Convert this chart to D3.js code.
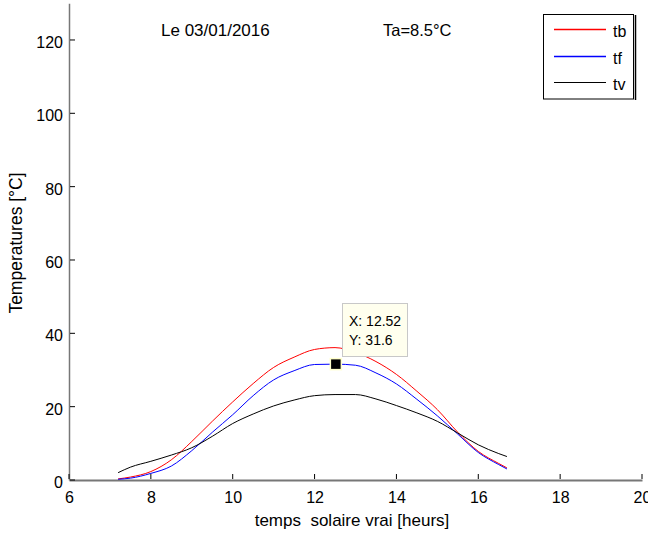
<!DOCTYPE html>
<html>
<head>
<meta charset="utf-8">
<script src="https://cdn.jsdelivr.net/npm/d3@7"></script>
<style>
  body { margin: 0; background: #fff; }
  svg { font-family: "Liberation Sans", Arial, sans-serif; }
</style>
</head>
<body>
<script>
// data
var heures = [7.2, 7.5, 8, 8.5, 9, 9.5, 10, 10.5, 11, 11.5, 12, 12.5, 13, 13.5, 14, 14.5, 15, 15.5, 16, 16.5, 16.7];
var tb = [0.3, 0.8, 2.3, 5.5, 10.5, 16, 21.3, 26.3, 30.7, 33.5, 35.6, 36.1, 34.8, 32.3, 28.8, 24.2, 19.2, 13, 7.8, 4.5, 3.3];
var tf = [0.2, 0.5, 1.8, 3.8, 8, 13, 17.8, 23, 27.3, 29.8, 31.5, 31.6, 31.3, 29.2, 26.2, 22, 17.5, 12.5, 7.5, 4.2, 3.0];
var tv = [2.0, 3.5, 5.1, 6.8, 8.8, 11.9, 15.4, 18, 20.2, 21.8, 23, 23.3, 23.3, 22.1, 20.3, 18.3, 16, 12.8, 9.6, 7.2, 6.4];
var xTicks = [6, 8, 10, 12, 14, 16, 18, 20];
var yTicks = [0, 20, 40, 60, 80, 100, 120];
var seriesNames = ["tb", "tf", "tv"];
var seriesColors = ["#ff0000", "#0000ff", "#000000"];
var datatip = {x: 12.52, y: 31.6};

var width = 648, height = 534;

var svg = d3.select("body").append("svg")
  .attr("width", width)
  .attr("height", height);

var x = d3.scaleLinear().domain([6, 20]).range([69, 642]);
var y = d3.scaleLinear().domain([0, 130]).range([480, 3.3]);

// axes
var xAxis = svg.append("g")
  .attr("transform", "translate(0,480)")
  .call(d3.axisBottom(x).tickValues(xTicks).tickSize(0).tickPadding(14));
xAxis.select(".domain").attr("stroke", "#777").attr("stroke-width", 2);
xAxis.selectAll("text").attr("font-size", 16).attr("fill", "#000")
  .attr("y", 23).attr("dy", 0);

var yAxis = svg.append("g")
  .attr("transform", "translate(69,0)")
  .call(d3.axisLeft(y).tickValues(yTicks).tickSize(0).tickPadding(6));
yAxis.select(".domain").attr("stroke", "#777").attr("stroke-width", 1.5);
yAxis.selectAll("text").attr("font-size", 16).attr("fill", "#000")
  .attr("dy", "0.47em");

// inward ticks
svg.append("g").selectAll("line")
  .data(xTicks)
  .enter().append("line")
  .attr("x1", function(d) { return x(d); })
  .attr("x2", function(d) { return x(d); })
  .attr("y1", 479)
  .attr("y2", 474)
  .attr("stroke", "#000");

svg.append("g").selectAll("line")
  .data(yTicks)
  .enter().append("line")
  .attr("x1", 70)
  .attr("x2", 75)
  .attr("y1", function(d) { return y(d); })
  .attr("y2", function(d) { return y(d); })
  .attr("stroke", "#000");

// curves
var series = [tb, tf, tv];
var line = d3.line()
  .x(function(d, i) { return x(heures[i]); })
  .y(function(d) { return y(d); })
  .curve(d3.curveMonotoneX);

svg.append("g").selectAll("path")
  .data(series)
  .enter().append("path")
  .attr("d", line)
  .attr("fill", "none")
  .attr("stroke", function(d, i) { return seriesColors[i]; })
  .attr("stroke-width", 1);

// labels
svg.append("text")
  .attr("x", 161).attr("y", 36)
  .attr("font-size", 17)
  .text("Le 03/01/2016");
svg.append("text")
  .attr("x", 383).attr("y", 36)
  .attr("font-size", 16.5)
  .text("Ta=8.5°C");

svg.append("text")
  .attr("transform", "translate(22,243) rotate(-90)")
  .attr("text-anchor", "middle")
  .attr("font-size", 17.5)
  .text("Temperatures [°C]");

svg.append("text")
  .attr("x", 352).attr("y", 526)
  .attr("text-anchor", "middle")
  .attr("font-size", 17)
  .style("white-space", "pre")
  .text("temps  solaire vrai [heurs]");

// legend
var legend = svg.append("g");
legend.append("line")
  .attr("x1", 635.5).attr("x2", 635.5)
  .attr("y1", 15).attr("y2", 100)
  .attr("stroke", "#000").attr("stroke-width", 1.5);
legend.append("rect")
  .attr("x", 543.5).attr("y", 14.5)
  .attr("width", 90).attr("height", 84.5)
  .attr("fill", "#fff")
  .attr("stroke", "#000");

var rowsY = [29, 56, 82];
seriesNames.forEach(function(name, i) {
  legend.append("line")
    .attr("x1", 554).attr("x2", 606)
    .attr("y1", rowsY[i] + 0.5).attr("y2", rowsY[i] + 0.5)
    .attr("stroke", seriesColors[i])
    .attr("stroke-width", i == 2 ? 1 : 1.6);
  legend.append("text")
    .attr("x", 613).attr("y", rowsY[i] + 8)
    .attr("font-size", 16)
    .text(name);
});

// datatip
var tip = svg.append("g");
tip.append("rect")
  .attr("x", 342.5).attr("y", 303.5)
  .attr("width", 65).attr("height", 53)
  .attr("fill", "#ffffee")
  .attr("stroke", "#c8c8c8");
tip.append("text")
  .attr("x", 349).attr("y", 326)
  .attr("font-size", 14)
  .text("X: " + datatip.x);
tip.append("text")
  .attr("x", 349).attr("y", 345)
  .attr("font-size", 14)
  .text("Y: " + datatip.y);
tip.append("rect")
  .attr("x", x(datatip.x) - 5.5)
  .attr("y", y(datatip.y) - 5.5)
  .attr("width", 11).attr("height", 11)
  .attr("fill", "#000")
  .attr("stroke", "#ffffcc")
  .attr("stroke-width", 1.5);
</script>
</body>
</html>
